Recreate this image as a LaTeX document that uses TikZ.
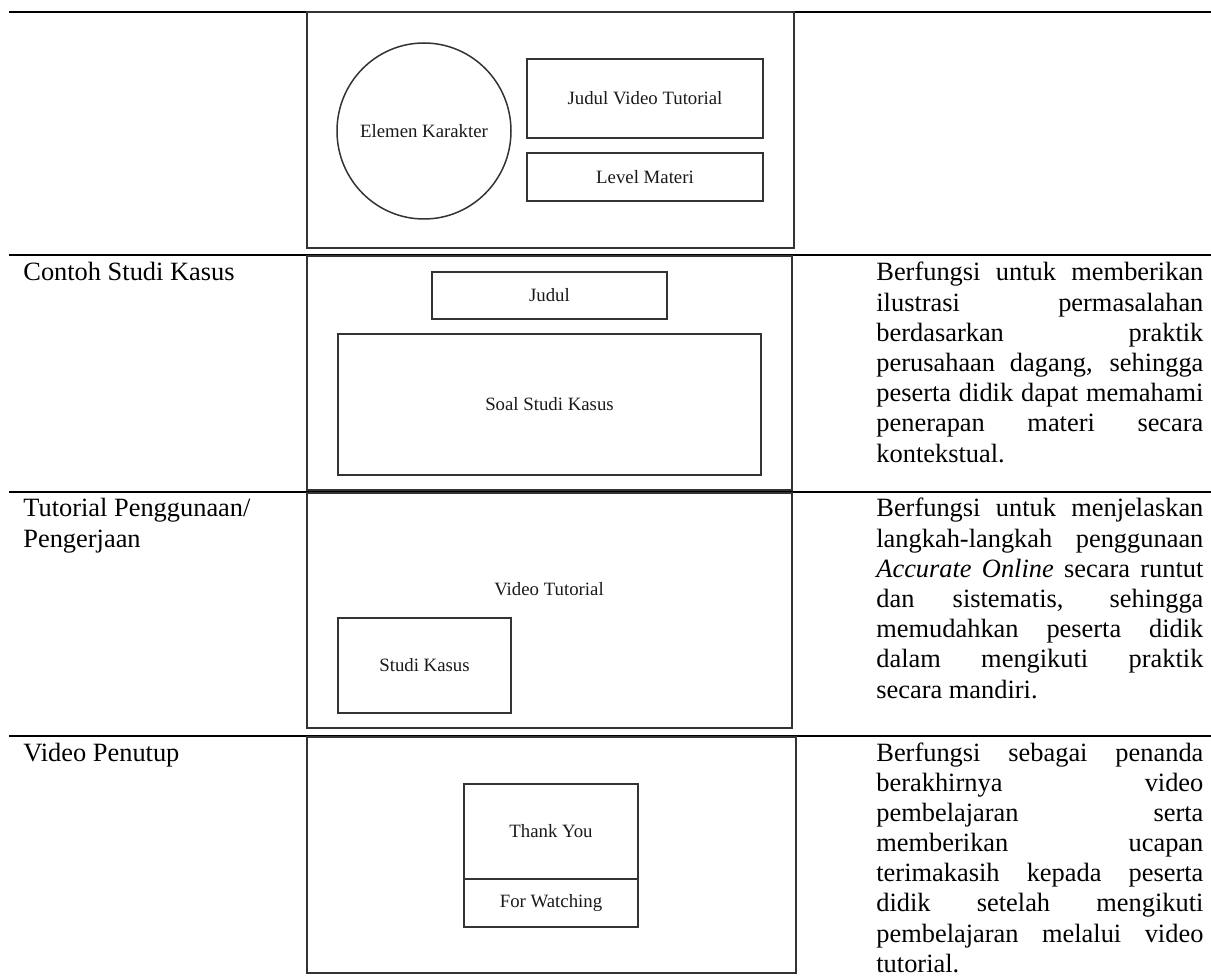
\documentclass[tikz,border=0pt]{standalone}
\usepackage{fontspec}
\setmainfont{Liberation Serif}
\newcommand{\jline}[1]{\makebox[163.5pt][s]{#1}}

\tikzset{
	wire/.style={line width=0.75pt, draw=black!80},
	rowrule/.style={line width=1.1pt, draw=black},
	boxlabel/.style={inner sep=0pt, font=\fontsize{9.4}{11}\selectfont, text=black!90},
	rowlabel/.style={inner sep=0pt, anchor=base west, font=\fontsize{13.2}{15.1}\selectfont},
}

\begin{document}
\begin{tikzpicture}[x=0.5pt, y=-0.5pt]
			%%%%% START %%%%%
			\useasboundingbox (0, 0) rectangle (1211, 978);
			
			\draw[rowrule] (9, 12) -- (1211, 12);
			\draw[rowrule] (9, 255) -- (1211, 255);
			\draw[rowrule] (9, 492) -- (1211, 492);
			\draw[rowrule] (9, 736) -- (1211, 736);
			
			% pembuka
			\draw[wire] (307, 12) rectangle (794, 248);
			\draw[wire] (424, 131) ellipse (87 and 88);
			\node[boxlabel] (karakter) at (424, 131) {Elemen Karakter};
			\draw[wire] (527, 59) rectangle (763, 138);
			\node[boxlabel] (judulvideo) at (645, 98) {Judul Video Tutorial};
			\draw[wire] (527, 153) rectangle (763, 201);
			\node[boxlabel] (level) at (645, 177) {Level Materi};
			
			% studi kasus
			\node[rowlabel] (labstudi) at (23, 281) {Contoh Studi Kasus};
			\draw[wire] (307, 256) rectangle (792, 490);
			\draw[wire] (432, 272) rectangle (667, 319);
			\node[boxlabel] (judul) at (549.5, 295.5) {Judul};
			\draw[wire] (338, 334) rectangle (761, 475);
			\node[boxlabel] (soal) at (549.5, 404.5) {Soal Studi Kasus};
			\node[rowlabel] (descstudi) at (876, 281) {\parbox[t]{163.5pt}{%
				\jline{Berfungsi untuk memberikan}\\
				\jline{ilustrasi permasalahan}\\
				\jline{berdasarkan praktik}\\
				\jline{perusahaan dagang, sehingga}\\
				\jline{peserta didik dapat memahami}\\
				\jline{penerapan materi secara}\\
				kontekstual.}};
			
			% tutorial
			\node[rowlabel] (labtutor) at (23, 517) {\parbox[t]{140pt}{Tutorial Penggunaan/\\Pengerjaan}};
			\draw[wire] (307, 493) rectangle (792, 728);
			\node[boxlabel] (video) at (549, 589) {Video Tutorial};
			\draw[wire] (338, 618) rectangle (511, 713);
			\node[boxlabel] (kasus) at (424.5, 665.5) {Studi Kasus};
			\node[rowlabel] (desctutor) at (876, 517) {\parbox[t]{163.5pt}{%
				\jline{Berfungsi untuk menjelaskan}\\
				\jline{langkah-langkah penggunaan}\\
				\jline{\textit{Accurate Online} secara runtut}\\
				\jline{dan sistematis, sehingga}\\
				\jline{memudahkan peserta didik}\\
				\jline{dalam mengikuti praktik}\\
				secara mandiri.}};
			
			% penutup
			\node[rowlabel] (labtutup) at (23, 761) {Video Penutup};
			\draw[wire] (307, 737) rectangle (796, 973);
			\draw[wire] (464, 784) rectangle (638, 927);
			\draw[wire] (464, 879) -- (638, 879);
			\node[boxlabel] (thanks) at (551, 831.5) {Thank You};
			\node[boxlabel] (watching) at (551, 903) {For Watching};
			\node[rowlabel] (desctutup) at (876, 761) {\parbox[t]{163.5pt}{%
				\jline{Berfungsi sebagai penanda}\\
				\jline{berakhirnya video}\\
				\jline{pembelajaran serta}\\
				\jline{memberikan ucapan}\\
				\jline{terimakasih kepada peserta}\\
				\jline{didik setelah mengikuti}\\
				\jline{pembelajaran melalui video}\\
				tutorial.}};
			%%%%% END %%%%%
\end{tikzpicture}
\end{document}
